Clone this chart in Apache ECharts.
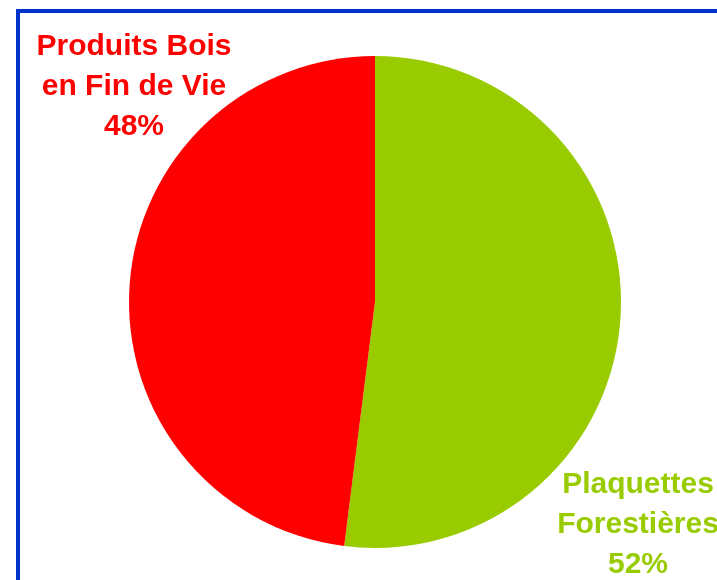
<!DOCTYPE html>
<html><head><meta charset="utf-8">
<script src="https://cdn.jsdelivr.net/npm/echarts@6/dist/echarts.min.js"></script>
<style>html,body{margin:0;padding:0;background:#fff}#c{width:717px;height:580px}</style>
</head><body><div id="c"></div>
<script>
const categories = ["Plaquettes\nForestières", "Produits Bois\nen Fin de Vie"];
const values = [52, 48];
const colors = ["#99cc00", "#ff0000"];
const labelPos = [[638, 525], [134, 87]];

const chart = echarts.init(document.getElementById('c'), null, {renderer: 'canvas'});
chart.setOption({
  backgroundColor: '#ffffff',
  animation: false,
  graphic: [{
    type: 'rect', z: 10,
    shape: {x: 18, y: 11, width: 720, height: 600},
    style: {fill: 'none', stroke: '#0033cc', lineWidth: 4}
  }],
  series: [{
    type: 'pie',
    center: [375, 302],
    radius: 246,
    startAngle: 90,
    clockwise: true,
    data: categories.map((n, i) => ({name: n, value: values[i], itemStyle: {color: colors[i]},
      label: {color: colors[i]}})),
    label: {
      show: true,
      formatter: p => p.name + '\n' + p.value + '%',
      fontFamily: 'Liberation Sans, Arial, sans-serif',
      fontWeight: 'bold',
      fontSize: 30,
      lineHeight: 40,
      align: 'center',
      overflow: 'none',
      width: 300
    },
    labelLine: {show: false},
    labelLayout: p => ({x: labelPos[p.dataIndex][0], y: labelPos[p.dataIndex][1], align: 'center', verticalAlign: 'middle'})
  }]
});
</script></body></html>
